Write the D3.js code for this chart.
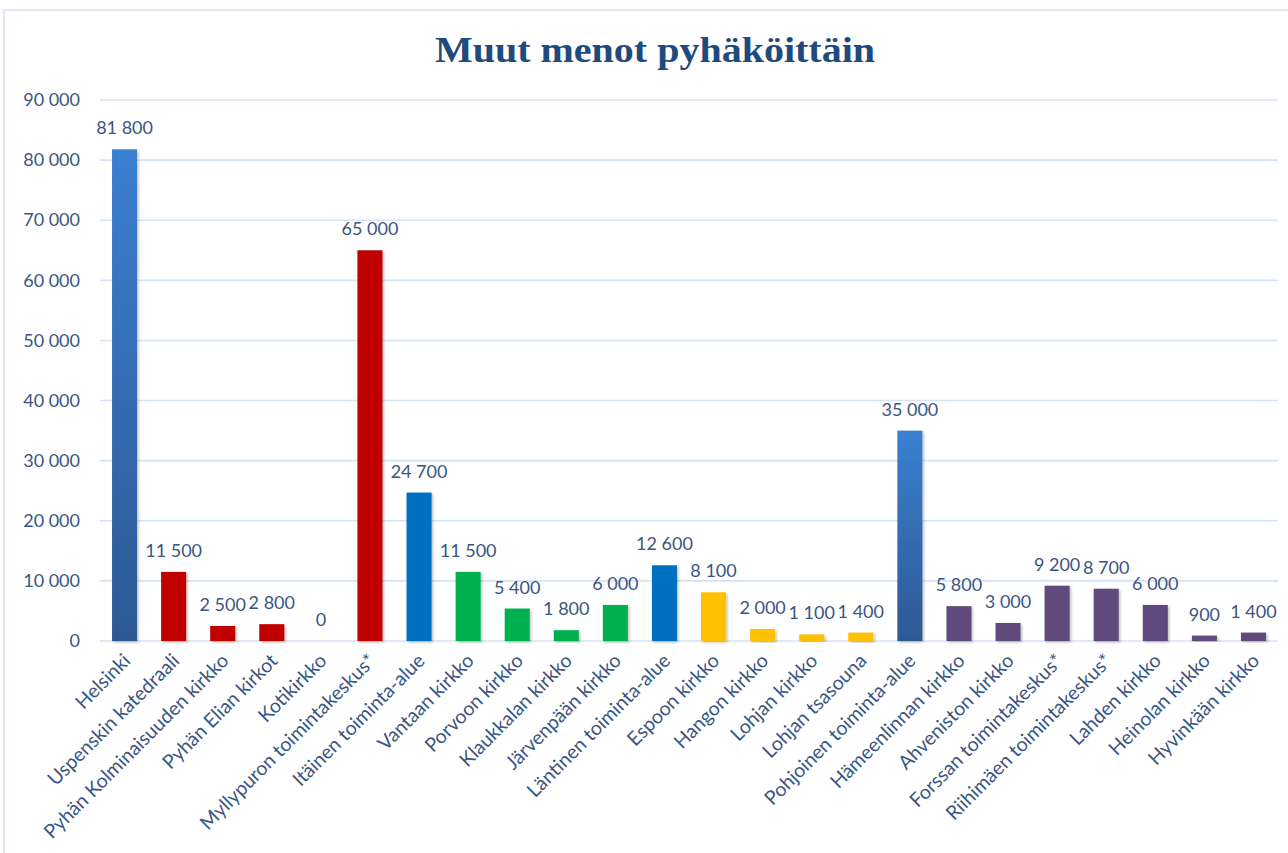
<!DOCTYPE html>
<html>
<head>
<meta charset="utf-8">
<script src="https://cdn.jsdelivr.net/npm/d3@7"></script>
<style>
  body { margin: 0; background: #fff; }
  text { font-family: Lato, "Open Sans", sans-serif; }
</style>
</head>
<body>
<script>
var categories = ["Helsinki", "Uspenskin katedraali", "Pyhän Kolminaisuuden kirkko", "Pyhän Elian kirkot",
  "Kotikirkko", "Myllypuron toimintakeskus*", "Itäinen toiminta-alue", "Vantaan kirkko", "Porvoon kirkko",
  "Klaukkalan kirkko", "Järvenpään kirkko", "Läntinen toiminta-alue", "Espoon kirkko", "Hangon kirkko",
  "Lohjan kirkko", "Lohjan tsasouna", "Pohjoinen toiminta-alue", "Hämeenlinnan kirkko", "Ahveniston kirkko",
  "Forssan toimintakeskus*", "Riihimäen toimintakeskus*", "Lahden kirkko", "Heinolan kirkko", "Hyvinkään kirkko"];
var values = [81800, 11500, 2500, 2800, 0, 65000, 24700, 11500, 5400, 1800, 6000, 12600, 8100, 2000,
  1100, 1400, 35000, 5800, 3000, 9200, 8700, 6000, 900, 1400];
var groups = ["total", "red", "red", "red", "red", "red", "area", "green", "green", "green", "green", "area",
  "yellow", "yellow", "yellow", "yellow", "total", "purple", "purple", "purple", "purple", "purple", "purple", "purple"];
var yTicks = [0, 10000, 20000, 30000, 40000, 50000, 60000, 70000, 80000, 90000];

var colors = {red: "#c00000", area: "#0070c0", green: "#00b050", yellow: "#ffc000", purple: "#604a7b", total: "url(#grad)"};
var textColor = "#3a5682";

var W = 1288, H = 853;
var margin = {top: 100, right: 10, bottom: 212, left: 100};
var width = W - margin.left - margin.right,
    height = H - margin.top - margin.bottom;

var fmt = d3.formatLocale({decimal: ",", thousands: " ", grouping: [3], currency: ["", "€"]}).format(",");

var svg = d3.select("body").append("svg")
    .attr("width", W)
    .attr("height", H);

var defs = svg.append("defs");
var grad = defs.append("linearGradient").attr("id", "grad")
    .attr("x1", 0).attr("y1", 0).attr("x2", 0).attr("y2", 1);
grad.append("stop").attr("offset", "0%").attr("stop-color", "#3b80d2");
grad.append("stop").attr("offset", "100%").attr("stop-color", "#2d5993");
var sh = defs.append("filter").attr("id", "sh").attr("x", "-20%").attr("y", "-5%").attr("width", "150%").attr("height", "120%");
sh.append("feDropShadow").attr("dx", 1.5).attr("dy", 1.5).attr("stdDeviation", 1.2)
    .attr("flood-color", "#000").attr("flood-opacity", 0.25);

// frame
svg.append("rect").attr("x", 4).attr("y", 10).attr("width", W + 10).attr("height", H + 10)
    .attr("fill", "none").attr("stroke", "#d5e2f3").attr("stroke-width", 1.5);

svg.append("text")
    .attr("x", 655).attr("y", 62)
    .attr("text-anchor", "middle")
    .attr("fill", "#1f4a7e")
    .style("font-family", "'Liberation Serif', 'DejaVu Serif', serif")
    .style("font-weight", "bold")
    .style("font-size", "36px")
    .attr("textLength", 440)
    .attr("lengthAdjust", "spacingAndGlyphs")
    .text("Muut menot pyhäköittäin");

var g = svg.append("g").attr("transform", "translate(" + margin.left + "," + margin.top + ")");

var x = d3.scaleBand().domain(categories).range([0, width]).paddingInner(0.49).paddingOuter(0.245);
var y = d3.scaleLinear().domain([0, 90000]).range([height, 0]);

// gridlines
g.selectAll(".grid").data(yTicks).enter().append("line")
    .attr("x1", 0).attr("x2", width)
    .attr("y1", function(d) { return y(d); }).attr("y2", function(d) { return y(d); })
    .attr("stroke", "#d6e3f4").attr("stroke-width", 1.6);

var yAxis = d3.axisLeft(y).tickValues(yTicks).tickFormat(fmt).tickSize(0).tickPadding(20);
var ya = g.append("g").call(yAxis);
ya.select(".domain").remove();
ya.selectAll("text").attr("fill", textColor).style("font-size", "18px").style("font-family", "Lato, sans-serif");

g.selectAll(".bar").data(values).enter().append("rect")
    .attr("x", function(d, i) { return x(categories[i]); })
    .attr("y", function(d) { return y(d); })
    .attr("width", x.bandwidth())
    .attr("height", function(d) { return height - y(d); })
    .attr("fill", function(d, i) { return colors[groups[i]]; })
    .attr("filter", "url(#sh)");

g.selectAll(".val").data(values).enter().append("text")
    .attr("x", function(d, i) { return x(categories[i]) + x.bandwidth() / 2; })
    .attr("y", function(d) { return y(d) - 15; })
    .attr("text-anchor", "middle")
    .attr("fill", textColor)
    .style("font-size", "18px")
    .text(function(d) { return fmt(d); });

var xAxis = d3.axisBottom(x).tickSize(0).tickPadding(0);
var xa = g.append("g").attr("transform", "translate(0," + height + ")").call(xAxis);
xa.select(".domain").remove();
xa.selectAll("text")
    .attr("fill", textColor)
    .style("font-size", "19.5px")
    .style("font-family", "Lato, sans-serif")
    .attr("text-anchor", "end")
    .attr("dy", null)
    .attr("y", 0)
    .attr("transform", "translate(7,21) rotate(-45)");
</script>
</body>
</html>
